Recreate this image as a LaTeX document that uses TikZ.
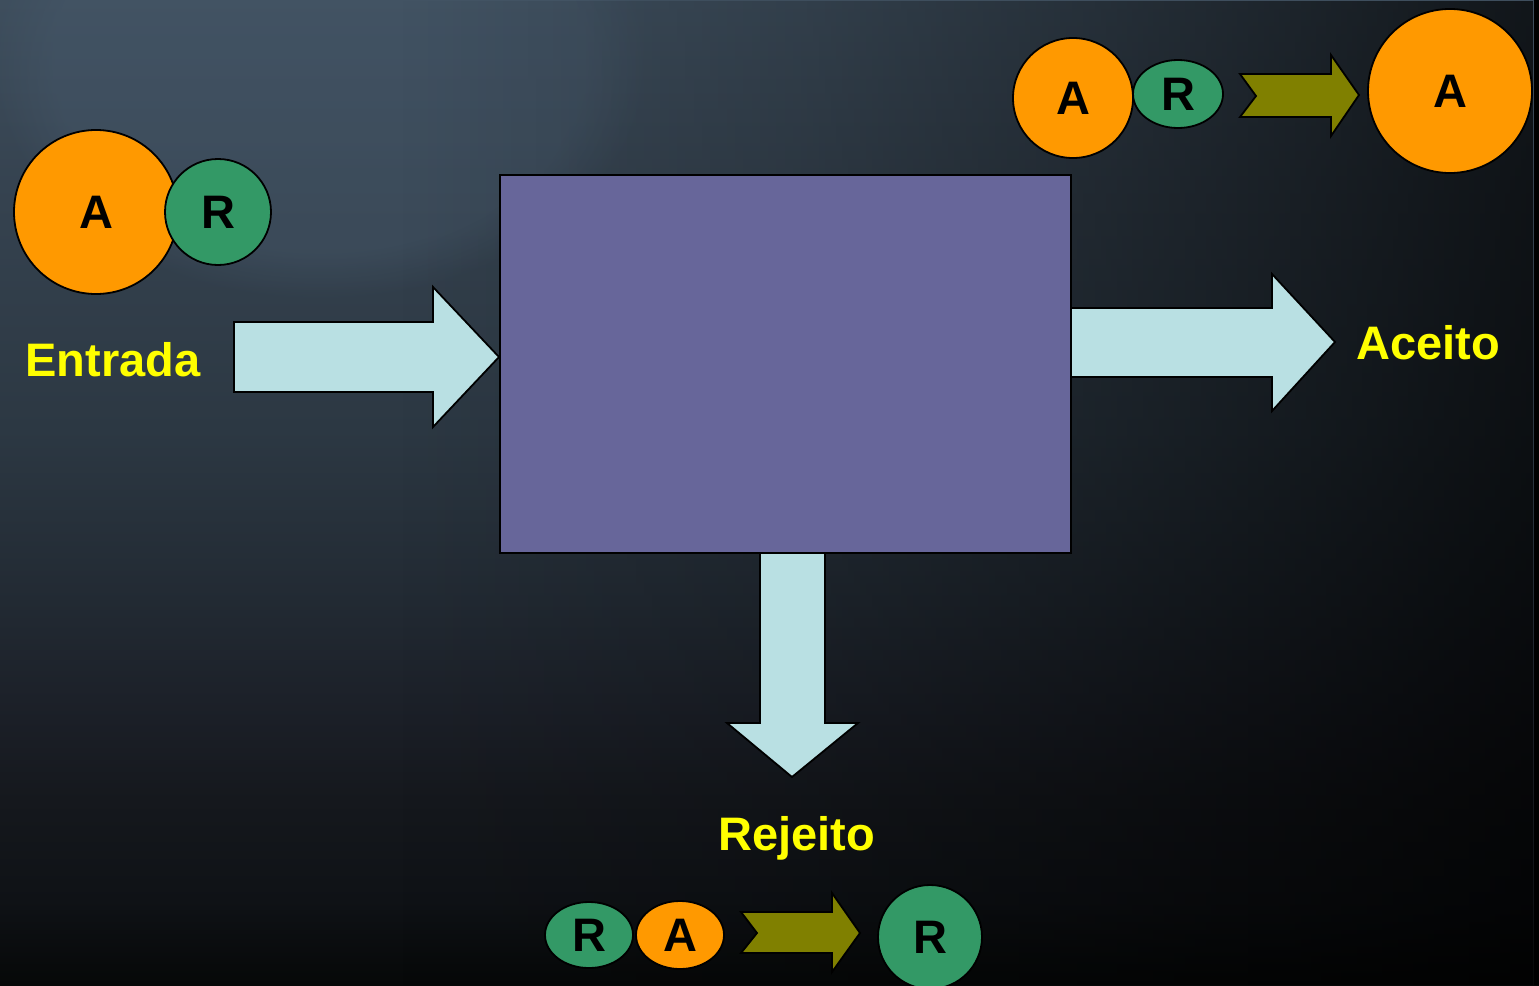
\documentclass[tikz,border=0pt]{standalone}
\usepackage{fontspec}
\setmainfont{Liberation Sans}
\usetikzlibrary{shapes.geometric,fadings}

% palette
\definecolor{bgTop}{HTML}{3E4E5D}
\definecolor{bgB}{HTML}{35424F}
\definecolor{bgC}{HTML}{2C3843}
\definecolor{bgD}{HTML}{222A33}
\definecolor{bgE}{HTML}{1B1F27}
\definecolor{bgF}{HTML}{15181D}
\definecolor{bgG}{HTML}{0F1216}
\definecolor{bgBottom}{HTML}{060808}
\definecolor{orangeA}{HTML}{FF9900}
\definecolor{greenR}{HTML}{339966}
\definecolor{oliveArrow}{HTML}{808000}
\definecolor{flowCyan}{HTML}{B9E0E3}
\definecolor{boxBlue}{HTML}{67669A}
\definecolor{labelYellow}{HTML}{FFFF00}
\definecolor{glow}{HTML}{4A5D70}

% backdrop: slate at the top, near black at the bottom
% (the filled area spans 25bp..75bp of the shading)
\pgfdeclareverticalshading{backdrop}{100bp}{%
  color(0bp)=(bgBottom); color(25bp)=(bgBottom); color(29.3bp)=(bgG);
  color(34.4bp)=(bgF); color(38.5bp)=(bgE); color(44.5bp)=(bgD);
  color(53.2bp)=(bgC); color(64.8bp)=(bgB); color(75bp)=(bgTop);
  color(100bp)=(bgTop)}

% opacity mask that grows towards the right edge (gray level = opacity)
\definecolor{mA}{gray}{0}
\definecolor{mB}{gray}{0.19}
\definecolor{mC}{gray}{0.39}
\definecolor{mD}{gray}{0.54}
\definecolor{mE}{gray}{0.72}
\pgfdeclarehorizontalshading{rightmask}{100bp}{%
  color(0bp)=(mA); color(38bp)=(mA); color(51bp)=(mB);
  color(60.7bp)=(mC); color(67.2bp)=(mD); color(74.8bp)=(mE);
  color(100bp)=(mE)}
\pgfdeclarefading{darkright}{\pgfuseshading{rightmask}}

\newcommand{\letterfont}{\fontsize{47}{50}\selectfont\bfseries}

\begin{document}
\begin{tikzpicture}[x=1pt,y=-1pt,
  ball/.style={circle,draw=black,line width=1.8pt,inner sep=0pt,font=\letterfont},
  egg/.style={ellipse,draw=black,line width=1.8pt,inner sep=0pt,font=\letterfont},
  lbl/.style={text=labelYellow,font=\letterfont,inner sep=0pt,anchor=base},
  flow/.style={fill=flowCyan,draw=black,line width=1.8pt,line join=miter},
  chevron/.style={fill=oliveArrow,draw=black,line width=1.8pt,line join=miter},
  machine/.style={rectangle,draw=black,line width=1.8pt,fill=boxBlue,inner sep=0pt}]

% background
\useasboundingbox (0,0) rectangle (1539,985);
\begin{scope}
  \clip (0,0) rectangle (1539,985);
  \shade[shading=backdrop] (0,0) rectangle (1539,985);
  \fill[glow,opacity=0.35,path fading=circle with fuzzy edge 20 percent] (320,60) ellipse (330pt and 240pt);
  \fill[black,path fading=darkright] (0,0) rectangle (1539,985);
  \fill[black] (1534,0) rectangle (1539,985);
\end{scope}

% feed: A with R attached
\node[ball,fill=orangeA,minimum size=164pt] (inA) at (96,212) {A};
\node[ball,fill=greenR,minimum size=106pt] (inR) at (218,212) {R};
\node[lbl] (entrada) at (113,376) {Entrada};

% flows into and out of the separator
\draw[flow] (234,322) -- (433,322) -- (433,287) -- (499,357) -- (433,427) -- (433,392) -- (234,392) -- cycle;
\draw[flow] (1071,308) -- (1272,308) -- (1272,274) -- (1335,342) -- (1272,411) -- (1272,377) -- (1071,377) -- cycle;
\draw[flow] (760,553) -- (760,723) -- (727,723) -- (792,777) -- (858,723) -- (825,723) -- (825,553) -- cycle;

% separator
\node[machine,minimum width=571pt,minimum height=378pt] (box) at (785.5,364) {};

% accepted product
\node[lbl] (aceito) at (1428,359) {Aceito};
\node[ball,fill=orangeA,minimum size=120pt] (accA) at (1073,98) {A};
\node[egg,fill=greenR,minimum width=90pt,minimum height=68pt] (accR) at (1178,94) {R};
\draw[chevron] (1240,74) -- (1331,74) -- (1331,55) -- (1359,95) -- (1331,136) -- (1331,117) -- (1240,117) -- (1256,96) -- cycle;
\node[ball,fill=orangeA,minimum size=164pt] (accOut) at (1450,91) {A};

% rejected product
\node[lbl] (rejeito) at (797,850) {Rejeito};
\node[egg,fill=greenR,minimum width=88pt,minimum height=66pt] (rejR) at (589,935) {R};
\node[egg,fill=orangeA,minimum width=88pt,minimum height=68pt] (rejA) at (680,935) {A};
\draw[chevron] (741,912) -- (832,912) -- (832,893) -- (860,933) -- (832,972) -- (832,953) -- (741,953) -- (757,933) -- cycle;
\node[ball,fill=greenR,minimum size=104pt] (rejOut) at (930,937) {R};
\end{tikzpicture}
\end{document}
